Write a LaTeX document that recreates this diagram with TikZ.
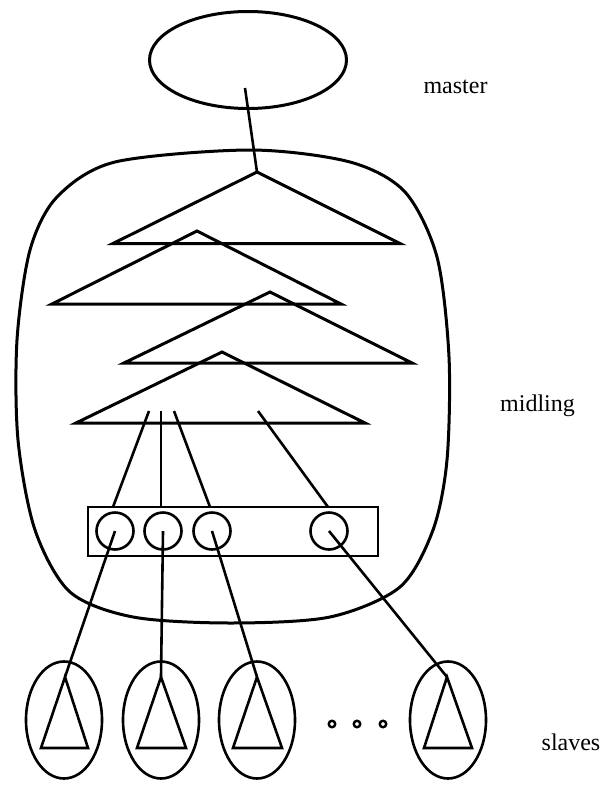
\documentclass[tikz,border=0pt]{standalone}
\usepackage{fontspec}
\setmainfont{Liberation Serif}
\usetikzlibrary{shapes.geometric}
\begin{document}
\begin{tikzpicture}[x=1pt,y=-1pt,
  ln/.style={line width=3pt},
  thinln/.style={line width=2.6pt},
  lbl/.style={font=\fontsize{24}{28}\selectfont, anchor=base, inner sep=0pt},
  slave/.style={draw, ellipse, thinln, minimum width=76pt, minimum height=117pt, inner sep=0pt},
  port/.style={draw, circle, thinln, minimum size=37pt, inner sep=0pt},
  dotc/.style={draw, circle, line width=2.4pt, minimum size=6.5pt, inner sep=0pt}]
\useasboundingbox (0,0) rectangle (601,785);

% master
\node[draw, ellipse, ln, minimum width=197pt, minimum height=97pt, inner sep=0pt] (master) at (248,60) {};
\node[lbl] (lmaster) at (455.5,93) {master};

% midling blob
\draw[ln] plot[smooth cycle] coordinates {(250,150) (350,162) (405,192) (437,257) (449,357) (447,460) (433,530) (400,587) (330,617) (230,623) (133,617) (70,592) (35,530) (18,440) (17,340) (30,250) (57,197) (115,162)};
\node[lbl] (lmid) at (537.5,411) {midling};

% stacked triangles
\coordinate (t1) at (257,172);
\coordinate (t2) at (197,231);
\coordinate (t3) at (270,292);
\coordinate (t4) at (222,352);
\draw[ln] (t1) -- (400,243.5) -- (113,243.5) -- cycle;
\draw[ln] (t2) -- (341,304) -- (52,304) -- cycle;
\draw[ln] (t3) -- (412,363) -- (124,363) -- cycle;
\draw[ln] (t4) -- (365,423) -- (76,423) -- cycle;

% master connector
\coordinate (mstart) at (245,88);
\draw[thinln] (mstart) -- (t1);

% port bar
\node[draw, line width=2.3pt, minimum width=290pt, minimum height=49pt, inner sep=0pt] (bus) at (233,531.5) {};
\node[port] (c1) at (115,531) {};
\node[port] (c2) at (163,531) {};
\node[port] (c3) at (212,531) {};
\node[port] (c4) at (329,531) {};

% upper connectors
\coordinate (s1) at (149,411);
\coordinate (s2) at (161,411);
\coordinate (s3) at (174,411);
\coordinate (s4) at (258,411);
\coordinate (e1) at (113,507);
\coordinate (e2) at (161,507);
\coordinate (e3) at (210,507);
\coordinate (e4) at (328,507);
\draw[thinln] (s1) -- (e1);
\draw[thinln] (s2) -- (e2);
\draw[thinln] (s3) -- (e3);
\draw[thinln] (s4) -- (e4);

% slaves
\node[slave] (sl1) at (64,720) {};
\node[slave] (sl2) at (161,720) {};
\node[slave] (sl3) at (257,720) {};
\node[slave] (sl4) at (448,720) {};
\coordinate (a1) at (65,677);
\coordinate (a2) at (161,677);
\coordinate (a3) at (257,677);
\coordinate (a4) at (447,677);
\draw[thinln] (a1) -- (88,748) -- (41,748) -- cycle;
\draw[thinln] (a2) -- (186,748) -- (137,748) -- cycle;
\draw[thinln] (a3) -- (282,748) -- (233,748) -- cycle;
\draw[thinln] (a4) -- (472,748) -- (424,748) -- cycle;

% lower connectors
\draw[thinln] (c1.center) -- (a1);
\draw[thinln] (c2.center) -- (a2);
\draw[thinln] (c3.center) -- (a3);
\draw[thinln] (c4.center) -- (a4);

% ellipsis dots
\node[dotc] (d1) at (332,724) {};
\node[dotc] (d2) at (357,724) {};
\node[dotc] (d3) at (383,724) {};
\node[lbl] (lslaves) at (571,750) {slaves};
\end{tikzpicture}
\end{document}
